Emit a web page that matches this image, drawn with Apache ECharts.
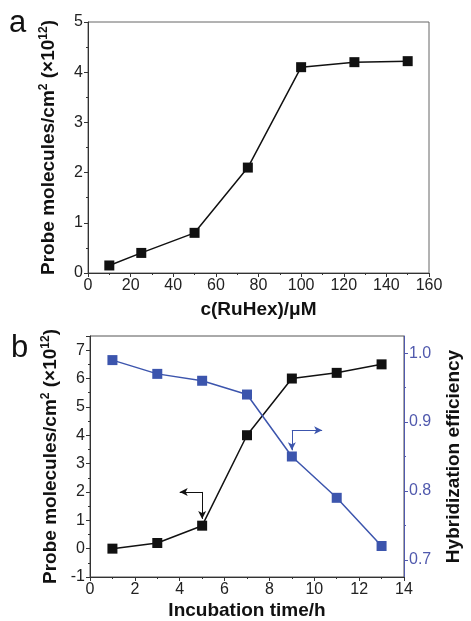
<!DOCTYPE html>
<html>
<head>
<meta charset="utf-8">
<script src="https://cdn.jsdelivr.net/npm/echarts@6/dist/echarts.min.js"></script>
<style>html,body{margin:0;padding:0;background:#fff;}#c{width:471px;height:621px;}</style>
</head>
<body>
<div id="c"></div>
<script>
// Panel a
var concA = [10, 25, 50, 75, 100, 125, 150];
var probeA = [0.15, 0.4, 0.8, 2.1, 4.1, 4.2, 4.22];
// Panel b
var timeB = [1, 3, 5, 7, 9, 11, 13];
var probeB = [0.0, 0.2, 0.81, 4.0, 6.0, 6.2, 6.5];
var hybB = [0.99, 0.97, 0.96, 0.94, 0.85, 0.79, 0.72];
// annotation arrows (data coords)
var arrowBlackCorner = [5, 2.0], arrowBlackTip = [5, 1.05], arrowBlackEnd = [4.0, 2.0];
var arrowBlueCorner = [9, 0.888], arrowBlueTip = [9, 0.859], arrowBlueEnd = [10.35, 0.888];
var rightLabels = [0.7, 0.8, 0.9, 1.0];
var rightMinor = [0.75, 0.85, 0.95];

var FONT = '"Liberation Sans", Arial, sans-serif';
var BLUE = '#3c55ad';
var AXBLUE = '#5059ad';
var AX = '#333';

function pairs(xs, ys){ return xs.map(function(x,i){return [x, ys[i]];}); }

var chart = echarts.init(document.getElementById('c'), null, {renderer:'canvas'});
var lbl = {fontFamily: FONT, fontSize: 16, color: '#222', margin: 5};
var nm = {fontFamily: FONT, fontSize: 19, fontWeight: 'bold', color: '#111'};
var nmRich = Object.assign({}, nm, {
  rich: {
    b: {fontFamily: FONT, fontSize: 19, fontWeight: 'bold', color: '#111'},
    s: {fontFamily: FONT, fontSize: 12, fontWeight: 'bold', color: '#111', verticalAlign: 'top', padding:[0,0,9,0]}
  }
});
var yTitle = '{b|Probe molecules/cm}{s|2}{b| (×10}{s|12}{b|)}';

chart.setOption({
  animation: false,
  backgroundColor: '#fff',
  graphic: [
    {type:'text', left: 9, top: 8, style:{text:'a', font:'31px ' + FONT, fill:'#111'}},
    {type:'text', left: 11, top: 333, style:{text:'b', font:'31px ' + FONT, fill:'#111'}}
  ],
  grid: [
    {left: 88, top: 22, width: 341, height: 251, show: true, borderColor: '#666', borderWidth: 1},
    {left: 90, top: 336, width: 326, height: 242, show: true, borderColor: '#555', borderWidth: 1}
  ],
  xAxis: [
    {gridIndex:0, type:'value', min:0, max:160, interval:20,
     axisLine:{onZero:false, lineStyle:{color:AX}}, axisTick:{inside:false, length:4, lineStyle:{color:AX}},
     minorTick:{show:true, splitNumber:2, length:2, lineStyle:{color:AX}},
     splitLine:{show:false}, axisLabel:lbl,
     name:'c(RuHex)/μM', nameLocation:'middle', nameGap:27, nameTextStyle:nm},
    {gridIndex:1, type:'value', min:0, max:14, interval:2,
     axisLine:{onZero:false, lineStyle:{color:AX}}, axisTick:{inside:false, length:4, lineStyle:{color:AX}},
     minorTick:{show:true, splitNumber:2, length:2, lineStyle:{color:AX}},
     splitLine:{show:false}, axisLabel:lbl,
     name:'Incubation time/h', nameLocation:'middle', nameGap:24, nameTextStyle:nm}
  ],
  yAxis: [
    {gridIndex:0, type:'value', min:0, max:5, interval:1,
     axisLine:{show:true, onZero:false, lineStyle:{color:AX}}, axisTick:{show:true, inside:false, length:4, lineStyle:{color:AX}},
     minorTick:{show:true, splitNumber:2, length:2, lineStyle:{color:AX}},
     splitLine:{show:false}, axisLabel:lbl,
     name:yTitle, nameLocation:'middle', nameGap:29, nameTextStyle:nmRich},
    {gridIndex:1, type:'value', min:-1, max:7.5, interval:1,
     axisLine:{show:true, onZero:false, lineStyle:{color:AX}}, axisTick:{show:true, inside:false, length:4, lineStyle:{color:AX}},
     minorTick:{show:true, splitNumber:2, length:2, lineStyle:{color:AX}},
     splitLine:{show:false},
     axisLabel:Object.assign({}, lbl, {formatter:function(v){return v===7.5?'':String(v);}}),
     name:yTitle, nameLocation:'middle', nameGap:25, nameTextStyle:nmRich},
    {gridIndex:1, type:'value', position:'right', min:0.675, max:1.025,
     axisLine:{show:true, onZero:false, lineStyle:{color:AXBLUE}},
     axisTick:{show:true, inside:false, length:4, customValues: rightLabels, lineStyle:{color:AXBLUE}},
     splitLine:{show:false},
     axisLabel:Object.assign({}, lbl, {color:AXBLUE, customValues: rightLabels, formatter:function(v){return v.toFixed(1);}}),
     name:'Hybridization efficiency', nameLocation:'middle', nameGap:40, nameRotate:90, nameTextStyle:nm},
    {gridIndex:1, type:'value', position:'right', min:0.675, max:1.025,
     axisLine:{show:false, onZero:false},
     axisTick:{show:true, inside:false, length:2, customValues: rightMinor, lineStyle:{color:AXBLUE}},
     axisLabel:{show:false}, splitLine:{show:false}}
  ],
  series: [
    {type:'line', xAxisIndex:0, yAxisIndex:0, data: pairs(concA, probeA),
     symbol:'rect', symbolSize:10, itemStyle:{color:'#111'}, lineStyle:{color:'#111', width:1.5}},
    {type:'line', xAxisIndex:1, yAxisIndex:1, data: pairs(timeB, probeB),
     symbol:'rect', symbolSize:10, itemStyle:{color:'#111'}, lineStyle:{color:'#111', width:1.5},
     markLine:{silent:true, symbol:['none','arrow'], symbolSize:[6,8], label:{show:false},
       lineStyle:{color:'#111', width:1, type:'solid'},
       data:[
         [{coord:arrowBlackCorner},{coord:arrowBlackTip}],
         [{coord:arrowBlackCorner},{coord:arrowBlackEnd}]
       ]}},
    {type:'line', xAxisIndex:1, yAxisIndex:2, data: pairs(timeB, hybB),
     symbol:'rect', symbolSize:10, itemStyle:{color:BLUE}, lineStyle:{color:BLUE, width:1.5},
     markLine:{silent:true, symbol:['none','arrow'], symbolSize:[6,8], label:{show:false},
       lineStyle:{color:BLUE, width:1, type:'solid'},
       data:[
         [{coord:arrowBlueCorner},{coord:arrowBlueTip}],
         [{coord:arrowBlueCorner},{coord:arrowBlueEnd}]
       ]}}
  ]
});
</script>
</body>
</html>
